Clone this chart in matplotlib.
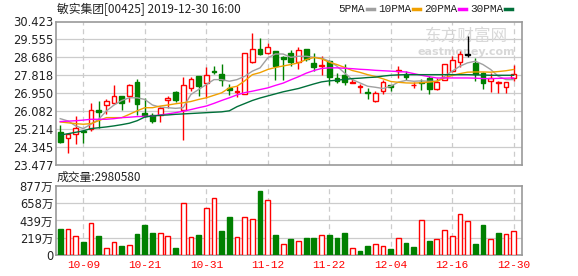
import numpy as np
import matplotlib
matplotlib.use('Agg')
import matplotlib.pyplot as plt

plt.rcParams['font.family'] = ['DejaVu Sans', 'Noto Sans CJK SC']

# ---- data ----
date_labels = ['10-09', '10-21', '10-31', '11-12', '11-22', '12-04', '12-16', '12-30']
date_pos = [3, 11, 19, 27, 35, 43, 51, 59]

opens = [25.09, 24.77, 24.97, 25.12, 25.21, 26.15, 26.38, 26.48, 26.81, 26.80,
         27.50, 25.99, 25.90, 25.90, 26.62, 27.02, 26.12, 27.18, 27.78, 27.44,
         28.05, 27.89, 27.18, 27.02, 26.92, 28.47, 29.08, 28.88, 28.98, 28.69,
         28.90, 28.45, 29.09, 28.42, 28.29, 28.53, 27.69, 27.82, 27.47, 27.26,
         27.02, 26.57, 27.05, 27.33, 28.03, 27.90, 27.33, 27.51, 27.69, 27.14,
         27.59, 28.05, 28.45, 28.82, 28.40, 27.94, 27.54, 27.46, 27.24, 27.70]
highs = [25.42, 25.05, 25.85, 25.18, 26.49, 26.57, 26.65, 27.34, 26.83, 27.41,
         27.65, 26.73, 25.99, 26.33, 26.81, 27.05, 27.73, 27.73, 27.79, 28.21,
         28.26, 28.37, 27.41, 27.29, 28.90, 29.86, 29.62, 29.36, 29.01, 28.74,
         29.03, 29.17, 29.10, 28.90, 28.74, 28.58, 27.94, 28.37, 27.69, 27.41,
         27.21, 27.05, 27.61, 27.37, 28.25, 28.02, 27.49, 27.65, 27.78, 27.69,
         28.38, 28.74, 28.98, 29.70, 28.66, 27.96, 27.94, 27.55, 27.48, 28.32]
lows = [24.52, 24.08, 24.48, 24.54, 25.13, 25.29, 25.93, 26.44, 26.12, 26.54,
        25.88, 25.80, 25.51, 25.58, 26.25, 26.55, 24.68, 27.05, 26.81, 26.73,
        27.89, 27.29, 26.86, 26.76, 26.89, 28.42, 28.82, 28.85, 27.60, 27.58,
        28.29, 28.14, 28.53, 28.02, 27.81, 27.33, 27.45, 27.33, 27.44, 26.97,
        26.65, 26.55, 26.89, 27.05, 27.70, 27.58, 27.18, 27.09, 26.90, 27.12,
        27.59, 27.97, 28.21, 28.69, 27.55, 27.14, 27.03, 26.95, 26.95, 27.56]
closes = [24.57, 24.97, 25.29, 25.08, 26.12, 26.03, 26.57, 26.81, 26.49, 27.34,
          26.44, 25.87, 25.61, 26.25, 26.70, 26.60, 27.34, 27.63, 27.31, 27.82,
          27.98, 27.57, 27.09, 27.08, 28.88, 29.11, 28.87, 29.17, 28.29, 28.63,
          28.45, 29.03, 28.63, 28.22, 28.32, 27.74, 27.53, 27.49, 27.50, 27.29,
          26.96, 26.97, 27.50, 27.26, 28.07, 27.75, 27.36, 27.43, 27.16, 27.51,
          28.35, 28.58, 28.85, 28.82, 27.90, 27.46, 27.70, 27.49, 27.48, 27.87]
# doji drawn black
doji = [53]

ma5 = [25.72, 25.61, 25.37, 25.24, 25.45, 25.69, 26.09, 26.38, 26.60, 26.73,
       26.73, 26.65, 26.38, 26.28, 26.25, 26.22, 26.25, 26.89, 27.13, 27.37,
       27.61, 27.61, 27.53, 27.61, 27.77, 28.02, 28.18, 28.66, 28.85, 28.85,
       28.69, 28.74, 28.74, 28.69, 28.66, 28.50, 28.26, 27.93, 27.61, 27.45,
       27.29, 27.24, 27.18, 27.29, 27.49, 27.57, 27.53, 27.55, 27.53, 27.53,
       27.77, 28.02, 28.26, 28.42, 28.50, 28.34, 28.10, 27.77, 27.61, 27.61]
ma10 = [25.56, 25.52, 25.48, 25.45, 25.48, 25.62, 25.77, 25.77, 25.77, 25.93,
        26.10, 26.25, 26.25, 26.33, 26.38, 26.44, 26.49, 26.55, 26.65, 26.73,
        26.85, 26.97, 27.21, 27.29, 27.55, 27.85, 27.95, 28.10, 28.20, 28.27,
        28.34, 28.42, 28.58, 28.68, 28.62, 28.45, 28.34, 28.20, 28.05, 27.96,
        27.85, 27.76, 27.65, 27.52, 27.48, 27.45, 27.44, 27.46, 27.49, 27.53,
        27.69, 27.81, 27.90, 27.97, 27.98, 27.98, 27.97, 28.00, 28.04, 28.10]
ma20 = [25.58, 25.60, 25.62, 25.65, 25.69, 25.69, 25.69, 25.72, 25.77, 25.79,
        25.82, 25.83, 25.85, 25.90, 25.95, 26.01, 26.08, 26.16, 26.25, 26.33,
        26.46, 26.60, 26.73, 26.87, 26.98, 27.05, 27.13, 27.21, 27.33, 27.44,
        27.60, 27.75, 27.92, 28.05, 28.15, 28.18, 28.18, 28.16, 28.14, 28.11,
        28.09, 28.06, 28.04, 28.02, 28.00, 27.98, 27.90, 27.82, 27.75, 27.69,
        27.69, 27.69, 27.69, 27.69, 27.68, 27.66, 27.66, 27.67, 27.68, 27.69]
ma30 = [24.93, 24.99, 25.06, 25.13, 25.24, 25.28, 25.32, 25.37, 25.43, 25.50,
        25.62, 25.80, 25.85, 25.88, 25.90, 25.93, 25.95, 25.97, 25.99, 26.01,
        26.03, 26.05, 26.10, 26.30, 26.45, 26.60, 26.72, 26.82, 26.92, 27.02,
        27.10, 27.18, 27.29, 27.40, 27.50, 27.55, 27.58, 27.62, 27.66, 27.68,
        27.71, 27.73, 27.78, 27.82, 27.84, 27.85, 27.85, 27.85, 27.85, 27.85,
        27.85, 27.85, 27.85, 27.85, 27.84, 27.83, 27.82, 27.82, 27.82, 27.82]

# volume in 万
volume = [329, 325, 235, 163, 402, 240, 81, 158, 111, 124,
          265, 381, 278, 274, 240, 86, 659, 222, 252, 595,
          727, 304, 483, 227, 483, 453, 817, 697, 252, 137,
          201, 171, 214, 214, 248, 252, 214, 278, 81, 47,
          111, 137, 107, 73, 210, 150, 98, 441, 175, 197,
          312, 240, 518, 428, 137, 381, 197, 274, 261, 298]
vol_up = [0, 1, 1, 0, 1, 0, 1, 1, 0, 1, 0, 0, 0, 1, 1, 0, 1, 1, 0, 1,
          1, 0, 0, 1, 1, 1, 0, 1, 0, 1, 0, 1, 0, 0, 1, 0, 0, 0, 1, 0,
          0, 1, 1, 0, 1, 0, 0, 1, 0, 1, 1, 1, 1, 1, 0, 0, 1, 0, 1, 1]

price_ticks = [23.477, 24.345, 25.214, 26.082, 26.950, 27.818, 28.686, 29.555, 30.423]
vol_ticks = [0, 219, 439, 658, 877]
vol_tick_labels = ['0', '219万', '439万', '658万', '877万']

RED = '#ff0000'
GREEN = '#008000'
W, H = 578, 276

fig = plt.figure(figsize=(W / 100, H / 100), dpi=100)
fig.patch.set_facecolor('white')

def px_axes(x0, y0, x1, y1):
    return fig.add_axes([x0 / W, 1 - y1 / H, (x1 - x0) / W, (y1 - y0) / H])

ax = px_axes(56, 21.5, 522, 165)
axv = px_axes(56, 186.3, 522, 254.7)

n = len(closes)
x = np.arange(n)
o = np.array(opens); c = np.array(closes)
hi = np.array(highs); lo = np.array(lows)

colors = []
for i in range(n):
    if i in doji:
        colors.append('black')
    elif c[i] >= o[i]:
        colors.append(RED)
    else:
        colors.append(GREEN)

for a in (ax, axv):
    a.set_xlim(-0.55, 60.08)
    for s in a.spines.values():
        s.set_color('#999999')
        s.set_linewidth(1.2)
    for p in date_pos:
        a.axvline(p, color='#cccccc', lw=0.9, ls=(0, (4, 3)), zorder=0)
    a.tick_params(length=0, labelsize=8.3, colors='#222222', pad=2)

# price panel
ax.set_ylim(price_ticks[0], price_ticks[-1])
ax.set_yticks(price_ticks)
ax.set_yticklabels(['%.3f' % t for t in price_ticks])
for t in price_ticks[1:-1]:
    ax.axhline(t, color='#cccccc', lw=0.9, zorder=0)
ax.set_xticks([])

ax.vlines(x, lo, hi, colors=colors, lw=1.0, zorder=2)
body_bottom = np.minimum(o, c)
body_h = np.maximum(np.abs(c - o), 0.02)
face = ['white' if col == RED else col for col in colors]
ax.bar(x, body_h, bottom=body_bottom, width=0.62, color=face,
       edgecolor=colors, linewidth=1.0, zorder=3)

ax.plot(x, ma5, color='#a0a0a0', lw=1.0, zorder=4)
ax.plot(x, ma10, color='#f0a000', lw=1.0, zorder=4)
ax.plot(x, ma20, color='#ff00ff', lw=1.0, zorder=4)
ax.plot(x, ma30, color='#00703a', lw=1.0, zorder=4)

# watermark
ax.text(0.97, 0.9, '东方财富网', transform=ax.transAxes, ha='right', va='center',
        fontsize=12, color='#d8d8d8', family=['Noto Sans CJK SC'], zorder=1)
ax.text(0.985, 0.79, 'eastmoney.com', transform=ax.transAxes, ha='right', va='center',
        fontsize=8, color='#d8d8d8', fontweight='bold', zorder=1)

# volume panel
axv.set_ylim(0, 877)
axv.set_yticks(vol_ticks)
axv.set_yticklabels(vol_tick_labels)
for t in vol_ticks[1:-1]:
    axv.axhline(t, color='#cccccc', lw=0.9, zorder=0)
vcol = [RED if u else GREEN for u in vol_up]
vface = ['white' if u else GREEN for u in vol_up]
axv.bar(x, volume, width=0.62, color=vface, edgecolor=vcol, linewidth=1.0, zorder=3)
axv.set_xticks(date_pos)
axv.set_xticklabels(date_labels, color=RED, fontsize=8, family=['Liberation Mono'])
axv.tick_params(axis='x', pad=4)

# header texts
fig.text(57 / W, 1 - 9 / H, '敏实集团[00425] 2019-12-30 16:00', ha='left', va='center',
         fontsize=8.5, color='#222222', family=['Noto Sans CJK SC', 'DejaVu Sans'])
fig.text(57 / W, 1 - 177 / H, '成交量:2980580', ha='left', va='center',
         fontsize=8.5, color='#222222', family=['Noto Sans CJK SC', 'DejaVu Sans'])

# legend: name followed by a short thick dash
legend_items = [('5PMA', '#a0a0a0', 338), ('10PMA', '#f0a000', 378),
                ('20PMA', '#ff00ff', 424), ('30PMA', '#00703a', 470)]
fig.canvas.draw()
renderer = fig.canvas.get_renderer()
for name, col, lx in legend_items:
    t = fig.text(lx / W, 1 - 9 / H, name, ha='left', va='center', fontsize=8,
                 color='#222222', family=['Liberation Mono'])
    bb = t.get_window_extent(renderer=renderer)
    x_end = bb.x1
    fig.add_artist(plt.Line2D([(x_end + 2) / W, (x_end + 9) / W],
                              [1 - 9 / H, 1 - 9 / H], color=col, lw=2.5))

fig.savefig('out.png', dpi=100)
